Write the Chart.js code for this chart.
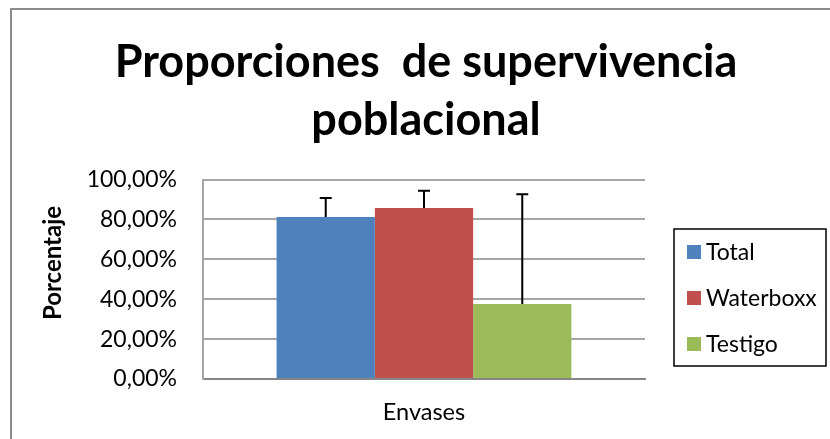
<!DOCTYPE html>
<html>
<head>
<meta charset="utf-8">
<script src="https://cdn.jsdelivr.net/npm/chart.js@4"></script>
<style>
  body { margin: 0; background: #fff; }
  #wrap { width: 830px; height: 439px; }
</style>
</head>
<body>
<div id="wrap"><canvas id="bar-chart" width="830" height="439"></canvas></div>
<script>
const titleLines = ['Proporciones  de supervivencia', 'poblacional'];
const categories = ['Envases'];
const seriesNames = ['Total', 'Waterboxx', 'Testigo'];
const seriesValues = [81.2, 85.7, 37.6];
const seriesErrors = [9.5, 8.7, 55.0];
const seriesColors = ['#4f81bd', '#c0504d', '#9bbb59'];
const yTickLabels = ['0,00%', '20,00%', '40,00%', '60,00%', '80,00%', '100,00%'];
const yTitle = 'Porcentaje';

const FONT = 'Lato, "Open Sans", sans-serif';

// frame, titles, error bars and legend are drawn by hand
const extras = {
  id: 'extras',
  beforeDraw(chart) {
    const ctx = chart.ctx;
    ctx.save();
    ctx.strokeStyle = '#8c8c8c';
    ctx.lineWidth = 2;
    ctx.beginPath();
    ctx.moveTo(11, 439);
    ctx.lineTo(11, 9);
    ctx.lineTo(830, 9);
    ctx.stroke();
    ctx.restore();
  },
  afterDatasetsDraw(chart) {
    const ctx = chart.ctx;
    const yScale = chart.scales.y;
    ctx.save();
    ctx.strokeStyle = '#000';
    ctx.lineWidth = 2;
    chart.data.datasets.forEach((ds, i) => {
      const bar = chart.getDatasetMeta(i).data[0];
      const top = yScale.getPixelForValue(seriesValues[i] + seriesErrors[i]);
      ctx.beginPath();
      ctx.moveTo(bar.x, bar.y);
      ctx.lineTo(bar.x, top);
      ctx.moveTo(bar.x - 6, top);
      ctx.lineTo(bar.x + 6, top);
      ctx.stroke();
    });
    ctx.restore();
  },
  afterDraw(chart) {
    const ctx = chart.ctx;
    ctx.save();
    // title
    ctx.fillStyle = '#000';
    ctx.textAlign = 'center';
    ctx.textBaseline = 'middle';
    ctx.font = 'bold 45px ' + FONT;
    titleLines.forEach((t, i) => ctx.fillText(t, 426, 62 + i * 58));
    // y axis title
    ctx.save();
    ctx.translate(53, 263);
    ctx.rotate(-Math.PI / 2);
    ctx.font = 'bold 24px ' + FONT;
    ctx.fillText(yTitle, 0, 0);
    ctx.restore();
    // legend
    ctx.strokeStyle = '#000';
    ctx.lineWidth = 1.5;
    ctx.strokeRect(674, 229, 152, 137);
    ctx.font = '23px ' + FONT;
    ctx.textAlign = 'left';
    seriesNames.forEach((name, i) => {
      const y = 252 + i * 46;
      ctx.fillStyle = seriesColors[i];
      ctx.fillRect(687, y - 7, 14, 14);
      ctx.fillStyle = '#000';
      ctx.fillText(name, 706, y + 1);
    });
    ctx.restore();
  }
};

const data = {
  labels: categories,
  datasets: seriesNames.map((name, i) => ({
    label: name,
    data: [seriesValues[i]],
    backgroundColor: seriesColors[i],
    borderWidth: 0,
    categoryPercentage: 0.667,
    barPercentage: 1
  }))
};

const config = {
  type: 'bar',
  data: data,
  options: {
    responsive: false,
    animation: false,
    layout: { padding: { top: 179.5, left: 30, right: 185, bottom: 0 } },
    plugins: {
      legend: { display: false },
      title: { display: false },
      tooltip: { enabled: false }
    },
    scales: {
      x: {
        grid: { display: false },
        border: { display: true, color: '#868686', width: 2 },
        ticks: { display: false },
        title: {
          display: true,
          text: categories[0],
          color: '#000',
          font: { family: FONT, size: 23.5 },
          padding: { bottom: 12, top: 0 }
        },
        afterFit(s) { s.height = 60; }
      },
      y: {
        min: 0,
        max: 100,
        ticks: {
          stepSize: 20,
          color: '#000',
          padding: 26,
          font: { family: FONT, size: 23 },
          callback: (v, i) => yTickLabels[i]
        },
        grid: { color: '#a6a6a6', lineWidth: 2, drawTicks: false },
        border: { display: true, color: '#a6a6a6', width: 2 },
        afterFit(s) { s.width = 173; }
      }
    }
  },
  plugins: [extras]
};

new Chart(document.getElementById('bar-chart').getContext('2d'), config);
</script>
</body>
</html>
